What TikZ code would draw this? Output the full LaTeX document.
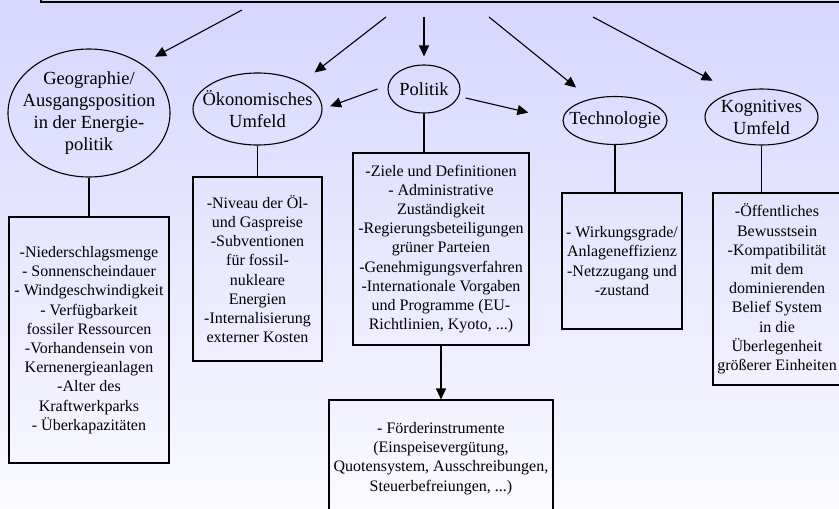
\documentclass[tikz,border=0pt]{standalone}
\usepackage{fontspec}
\setmainfont{Liberation Serif}
\usepackage{tikz}
\usetikzlibrary{arrows.meta}
\usetikzlibrary{shapes.geometric}

\definecolor{bgtop}{RGB}{214,214,255}
\definecolor{bgbottom}{RGB}{250,250,255}

\begin{document}
\begin{tikzpicture}[x=1pt,y=-1pt]
		\clip (0,0) rectangle (839,509);
		\shade[top color=bgtop,bottom color=bgbottom] (0,0) rectangle (839,509);

		\node[shape=rectangle,draw=black,line width=1.1pt,minimum width=838pt,minimum height=84pt] (head) at (460,-40) {};

		\begin{scope}[every node/.style={shape=ellipse,draw=black,line width=1.1pt,inner sep=-12pt,align=center,font=\fontsize{18.5}{22}\selectfont}]
		\node[minimum width=162pt,minimum height=128pt] (geo) at (89,113) {Geographie/\\Ausgangsposition\\in der Energie-\\politik};
		\node[minimum width=129pt,minimum height=72pt] (oeko) at (257.5,109) {Ökonomisches\\Umfeld};
		\node[minimum width=72pt,minimum height=48pt] (pol) at (424,89) {Politik};
		\node[minimum width=104pt,minimum height=48pt] (tech) at (615,120.5) {Technologie};
		\node[minimum width=113pt,minimum height=56pt] (kog) at (761.5,117) {Kognitives\\Umfeld};
		\end{scope}

		\begin{scope}[every node/.style={shape=rectangle,draw=black,line width=1.1pt,inner sep=2pt,align=center,font=\fontsize{16}{19.2}\selectfont}]
		\node[minimum width=160pt,minimum height=246pt] (geobox) at (89,340) {-Niederschlagsmenge\\- Sonnenscheindauer\\- Windgeschwindigkeit\\- Verfügbarkeit\\fossiler Ressourcen\\-Vorhandensein von\\Kernenergieanlagen\\-Alter des\\Kraftwerkparks\\- Überkapazitäten};
		\node[minimum width=129pt,minimum height=184pt] (oekobox) at (257.5,269) {-Niveau der Öl-\\und Gaspreise\\-Subventionen\\für fossil-\\nukleare\\Energien\\-Internalisierung\\externer Kosten};
		\node[minimum width=176pt,minimum height=192pt] (polbox) at (441,249) {-Ziele und Definitionen\\- Administrative\\Zuständigkeit\\-Regierungsbeteiligungen\\grüner Parteien\\-Genehmigungsverfahren\\-Internationale Vorgaben\\und Programme (EU-\\Richtlinien, Kyoto, ...)};
		\node[minimum width=224pt,minimum height=117pt] (foerder) at (441,458.5) {- Förderinstrumente\\(Einspeisevergütung,\\Quotensystem, Ausschreibungen,\\Steuerbefreiungen, ...)};
		\node[minimum width=120pt,minimum height=136pt] (techbox) at (622,261) {- Wirkungsgrade/\\Anlageneffizienz\\-Netzzugang und\\-zustand};
		\node[minimum width=128pt,minimum height=192pt] (kogbox) at (777,289) {-Öffentliches\\Bewusstsein\\-Kompatibilität\\mit dem\\dominierenden\\Belief System\\in die\\Überlegenheit\\größerer Einheiten};
		\end{scope}

		\begin{scope}[>={Triangle[length=11pt,width=10pt]},
		every edge/.style={draw=black,line width=1.1pt}]
		\coordinate (h1) at (242,10);
		\coordinate (h2) at (386,17);
		\coordinate (h3) at (424,17);
		\coordinate (h4) at (489,17);
		\coordinate (h5) at (593,17);

		\path [->] (h1) edge[shorten >=15pt] (geo.43);
		\path [->] (h2) edge[shorten >=16pt] (oeko.31);
		\path [->] (h3) edge[shorten >=8pt] (pol.north);
		\path [->] (h4) edge[shorten >=18pt] (tech.139);
		\path [->] (h5) edge[shorten >=24pt] (kog.138);
		\path [->] (pol.174) edge[shorten <=11pt,shorten >=8pt] (oeko.east);
		\path [->] (pol.-12) edge[shorten <=7pt,shorten >=35pt] (tech.west);
		\path [-] (geo) edge (geobox);
		\path [-] (oeko) edge (oekobox);
		\path [-] (pol.south) edge (pol.south |- polbox.north);
		\path [-] (tech.south) edge (tech.south |- techbox.north);
		\path [-] (kog.south) edge (kog.south |- kogbox.north);
		\path [->] (polbox) edge (foerder);
		\end{scope}
		\end{tikzpicture}
\end{document}
